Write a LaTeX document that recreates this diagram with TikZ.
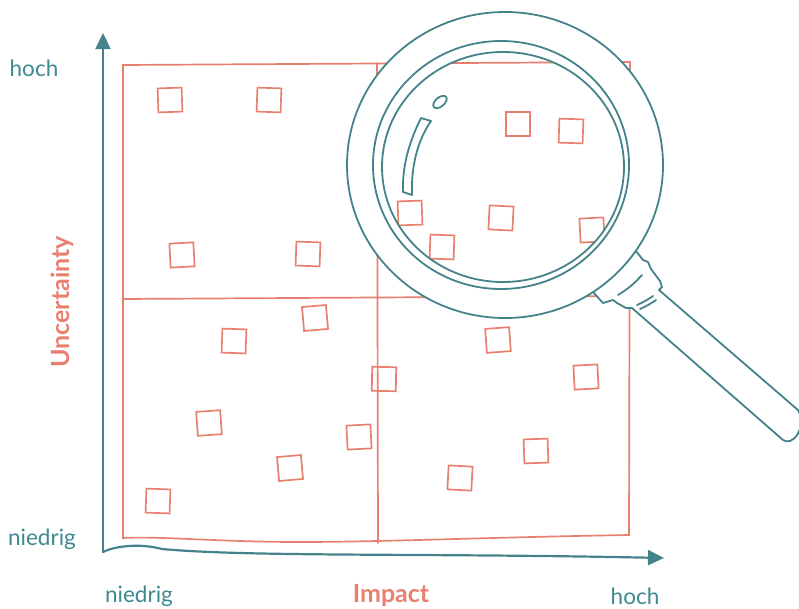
\documentclass[tikz,border=0pt]{standalone}
\usepackage{fontspec}
\setmainfont{Lato}
\usetikzlibrary{arrows.meta}

\definecolor{axisteal}{HTML}{45838A}
\definecolor{labelteal}{HTML}{3D8990}
\definecolor{riskred}{HTML}{E8806F}

\tikzset{
  riskbox/.style={draw=riskred, line width=1.7pt, minimum width=24pt,
    minimum height=24pt, inner sep=0pt},
  gridline/.style={draw=riskred, line width=1.7pt, line cap=round},
  axis/.style={draw=axisteal, line width=2.2pt, line cap=round,
    -{Triangle[length=16pt,width=15pt]}},
  lens/.style={draw=axisteal, line width=1.8pt, line join=round},
  scale label/.style={text=labelteal, font=\fontsize{22.5}{22.5}\selectfont},
  axis title/.style={text=riskred, font=\bfseries\fontsize{25}{25}\selectfont},
}

\begin{document}
\begin{tikzpicture}[x=1pt,y=-1pt]
  \useasboundingbox (0,0) rectangle (799,608);

  % matrix: outer frame and the two dividers
  \draw[gridline] (123,65) -- (630,62) -- (629,535)
    .. controls (500,537) and (380,542) .. (300,542)
    .. controls (220,542) and (160,536) .. (123,538) -- cycle;
  \draw[gridline] (377,63) -- (378,543);
  \draw[gridline] (123,299) -- (630,296);

  % risks
  \foreach \x/\y/\r [count=\i] in {
      170/100/2, 269/100/-2, 182/255/3, 308/254/-2,
      518/124/0, 571/131/-2, 410/213/2, 501/218/-3, 442/247/-2, 592/230/3,
      315/318/5, 234/341/-2, 209/423/4, 290/468/5, 158/501/-2, 359/437/3,
      498/340/4, 384/379/-1, 586/377/3, 536/451/2, 460/478/-3}
    \node[riskbox, rotate=\r] (s\i) at (\x,\y) {};

  % axes
  \coordinate (origin) at (103,552);
  \coordinate (ytip) at (103,33);
  \coordinate (xtip) at (664,558);
  \draw[axis] (origin) -- (ytip);
  \draw[axis] (origin) .. controls (115,546) and (140,543) .. (162,549)
    .. controls (250,557) and (420,553) .. (xtip);

  \node[scale label] (uhigh) at (34,68) {hoch};
  \node[scale label] (ulow) at (42,539) {niedrig};
  \node[scale label] (ilow) at (139,596) {niedrig};
  \node[scale label] (ihigh) at (635,596) {hoch};
  \node[axis title] (impact) at (391,596) {Impact};
  \node[axis title, rotate=90] (uncert) at (62,302) {Uncertainty};

  % magnifier: white rim and handle over the matrix
  \fill[white, even odd rule] (505,165) ellipse [x radius=158, y radius=153]
    (503,167) ellipse [x radius=121, y radius=115];
  \fill[white] (636,251) -- (643,260) -- (648,262) -- (651,269) -- (660,281)
    -- (662,287) -- (659,290) -- (798,410)
    .. controls (803,418) and (802,436) .. (790,441)
    .. controls (787,442) and (785,441) .. (783,440)
    -- (632,308) -- (626,308) -- (617,303) -- (613,300) -- (603,303)
    -- (593,292) -- cycle;
  \draw[lens] (505,165) ellipse [x radius=158, y radius=153];
  \draw[lens] (501,165) ellipse [x radius=128, y radius=124];
  \draw[lens] (503,167) ellipse [x radius=121, y radius=115];
  \draw[lens] (636,251) -- (643,260) -- (648,262) -- (651,269) -- (660,281)
    -- (662,287) -- (659,290) -- (798,410)
    .. controls (803,418) and (802,436) .. (790,441)
    .. controls (787,442) and (785,441) .. (783,440)
    -- (632,308) -- (626,308) -- (617,303) -- (613,300) -- (603,303)
    -- (593,292);
  \draw[lens, line cap=round] (618,295) to[bend right=8] (642,275);
  \draw[lens, line cap=round] (637,305) to[bend right=5] (653,296);
  \draw[lens, line cap=round] (640,309) to[bend right=5] (656,300);

  % glints on the glass
  \draw[lens, rotate around={40:(440,102)}] (440,102)
    ellipse [x radius=8, y radius=4.5];
  \draw[lens] (421,118) .. controls (410,140) and (402,165) .. (403,192)
    -- (412,195) .. controls (411,165) and (418,140) .. (431,121) -- cycle;
\end{tikzpicture}
\end{document}
